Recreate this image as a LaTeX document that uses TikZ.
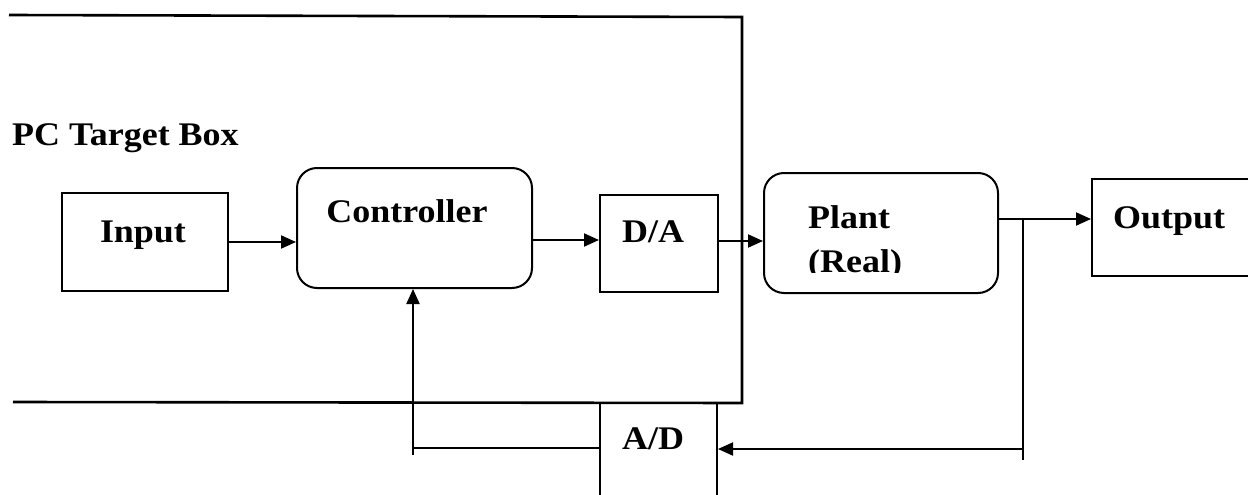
\documentclass[tikz,border=0pt]{standalone}
\usepackage{fontspec}
\setmainfont{Liberation Serif}[FakeStretch=1.09]
\usetikzlibrary{arrows.meta}
\tikzset{
  x=1pt, y=-1pt,
  wire/.style={line width=2pt},
  arr/.style={wire, -{Triangle[length=15pt,width=13pt]}},
  blockbox/.style={draw, line width=2pt, inner sep=0pt},
  roundbox/.style={blockbox, rounded corners=20pt},
  lbl/.style={font=\fontsize{33}{37}\selectfont\bfseries, inner sep=0pt, anchor=base},
}
\begin{document}
\begin{tikzpicture}
\useasboundingbox (0,0) rectangle (1248,495);

% target box outline (open on the left)
\draw[line width=2.6pt] (9,15) -- (742,17) -- (742,403) -- (13,402);
\node[lbl, anchor=base west] (pclabel) at (12,145) {PC Target Box};

% blocks
\node[blockbox, minimum width=166pt, minimum height=98pt] (input) at (145,242) {};
\node[lbl] (inputtxt) at (143,242) {Input};

\node[roundbox, minimum width=235pt, minimum height=120pt] (controller) at (414.5,228) {};
\node[lbl] (controllertxt) at (407,222) {Controller};

\node[blockbox, minimum width=118pt, minimum height=97pt] (da) at (659,243.5) {};
\node[lbl] (datxt) at (653,242) {D/A};

\node[roundbox, minimum width=234pt, minimum height=120pt] (plant) at (881,233) {};
\node[lbl, anchor=base west] (planttxt) at (808,228) {Plant};
\begin{scope}
  \clip (770,240) rectangle (990,272);
  \node[lbl, anchor=base west] (realtxt) at (808,272) {(Real)};
\end{scope}

\node[blockbox, minimum width=170pt, minimum height=97pt] (output) at (1177,227.5) {};
\node[lbl, anchor=base west] (outputtxt) at (1113,228) {Output};

\node[blockbox, minimum width=117pt, minimum height=110pt] (ad) at (658.5,458) {};
\node[lbl] (adtxt) at (653,449) {A/D};

% helper points on the wires
\coordinate (tap) at (1023,219);
\coordinate (tapend) at (1023,460);
\coordinate (fbR) at (1023,449);
\coordinate (fbL) at (413,448);
\coordinate (fbLend) at (413,455);

% forward path
\draw[arr] (input.east) -- (input.east -| controller.west);
\draw[arr] (controller.east |- 0,240) -- (da.west |- 0,240);
\draw[arr] (da.east |- 0,241) -- (plant.west |- 0,241);
\draw[wire] (plant.east |- tap) -- (tap);
\draw[arr] (tap) -- (tap -| output.west);

% feedback path
\draw[wire] (tap) -- (tapend);
\draw[arr] (fbR) -- (fbR -| ad.east);
\draw[wire] (fbL -| ad.west) -- (fbL) -- (fbLend);
\draw[arr] (fbL) -- (fbL |- controller.south);
\end{tikzpicture}
\end{document}
